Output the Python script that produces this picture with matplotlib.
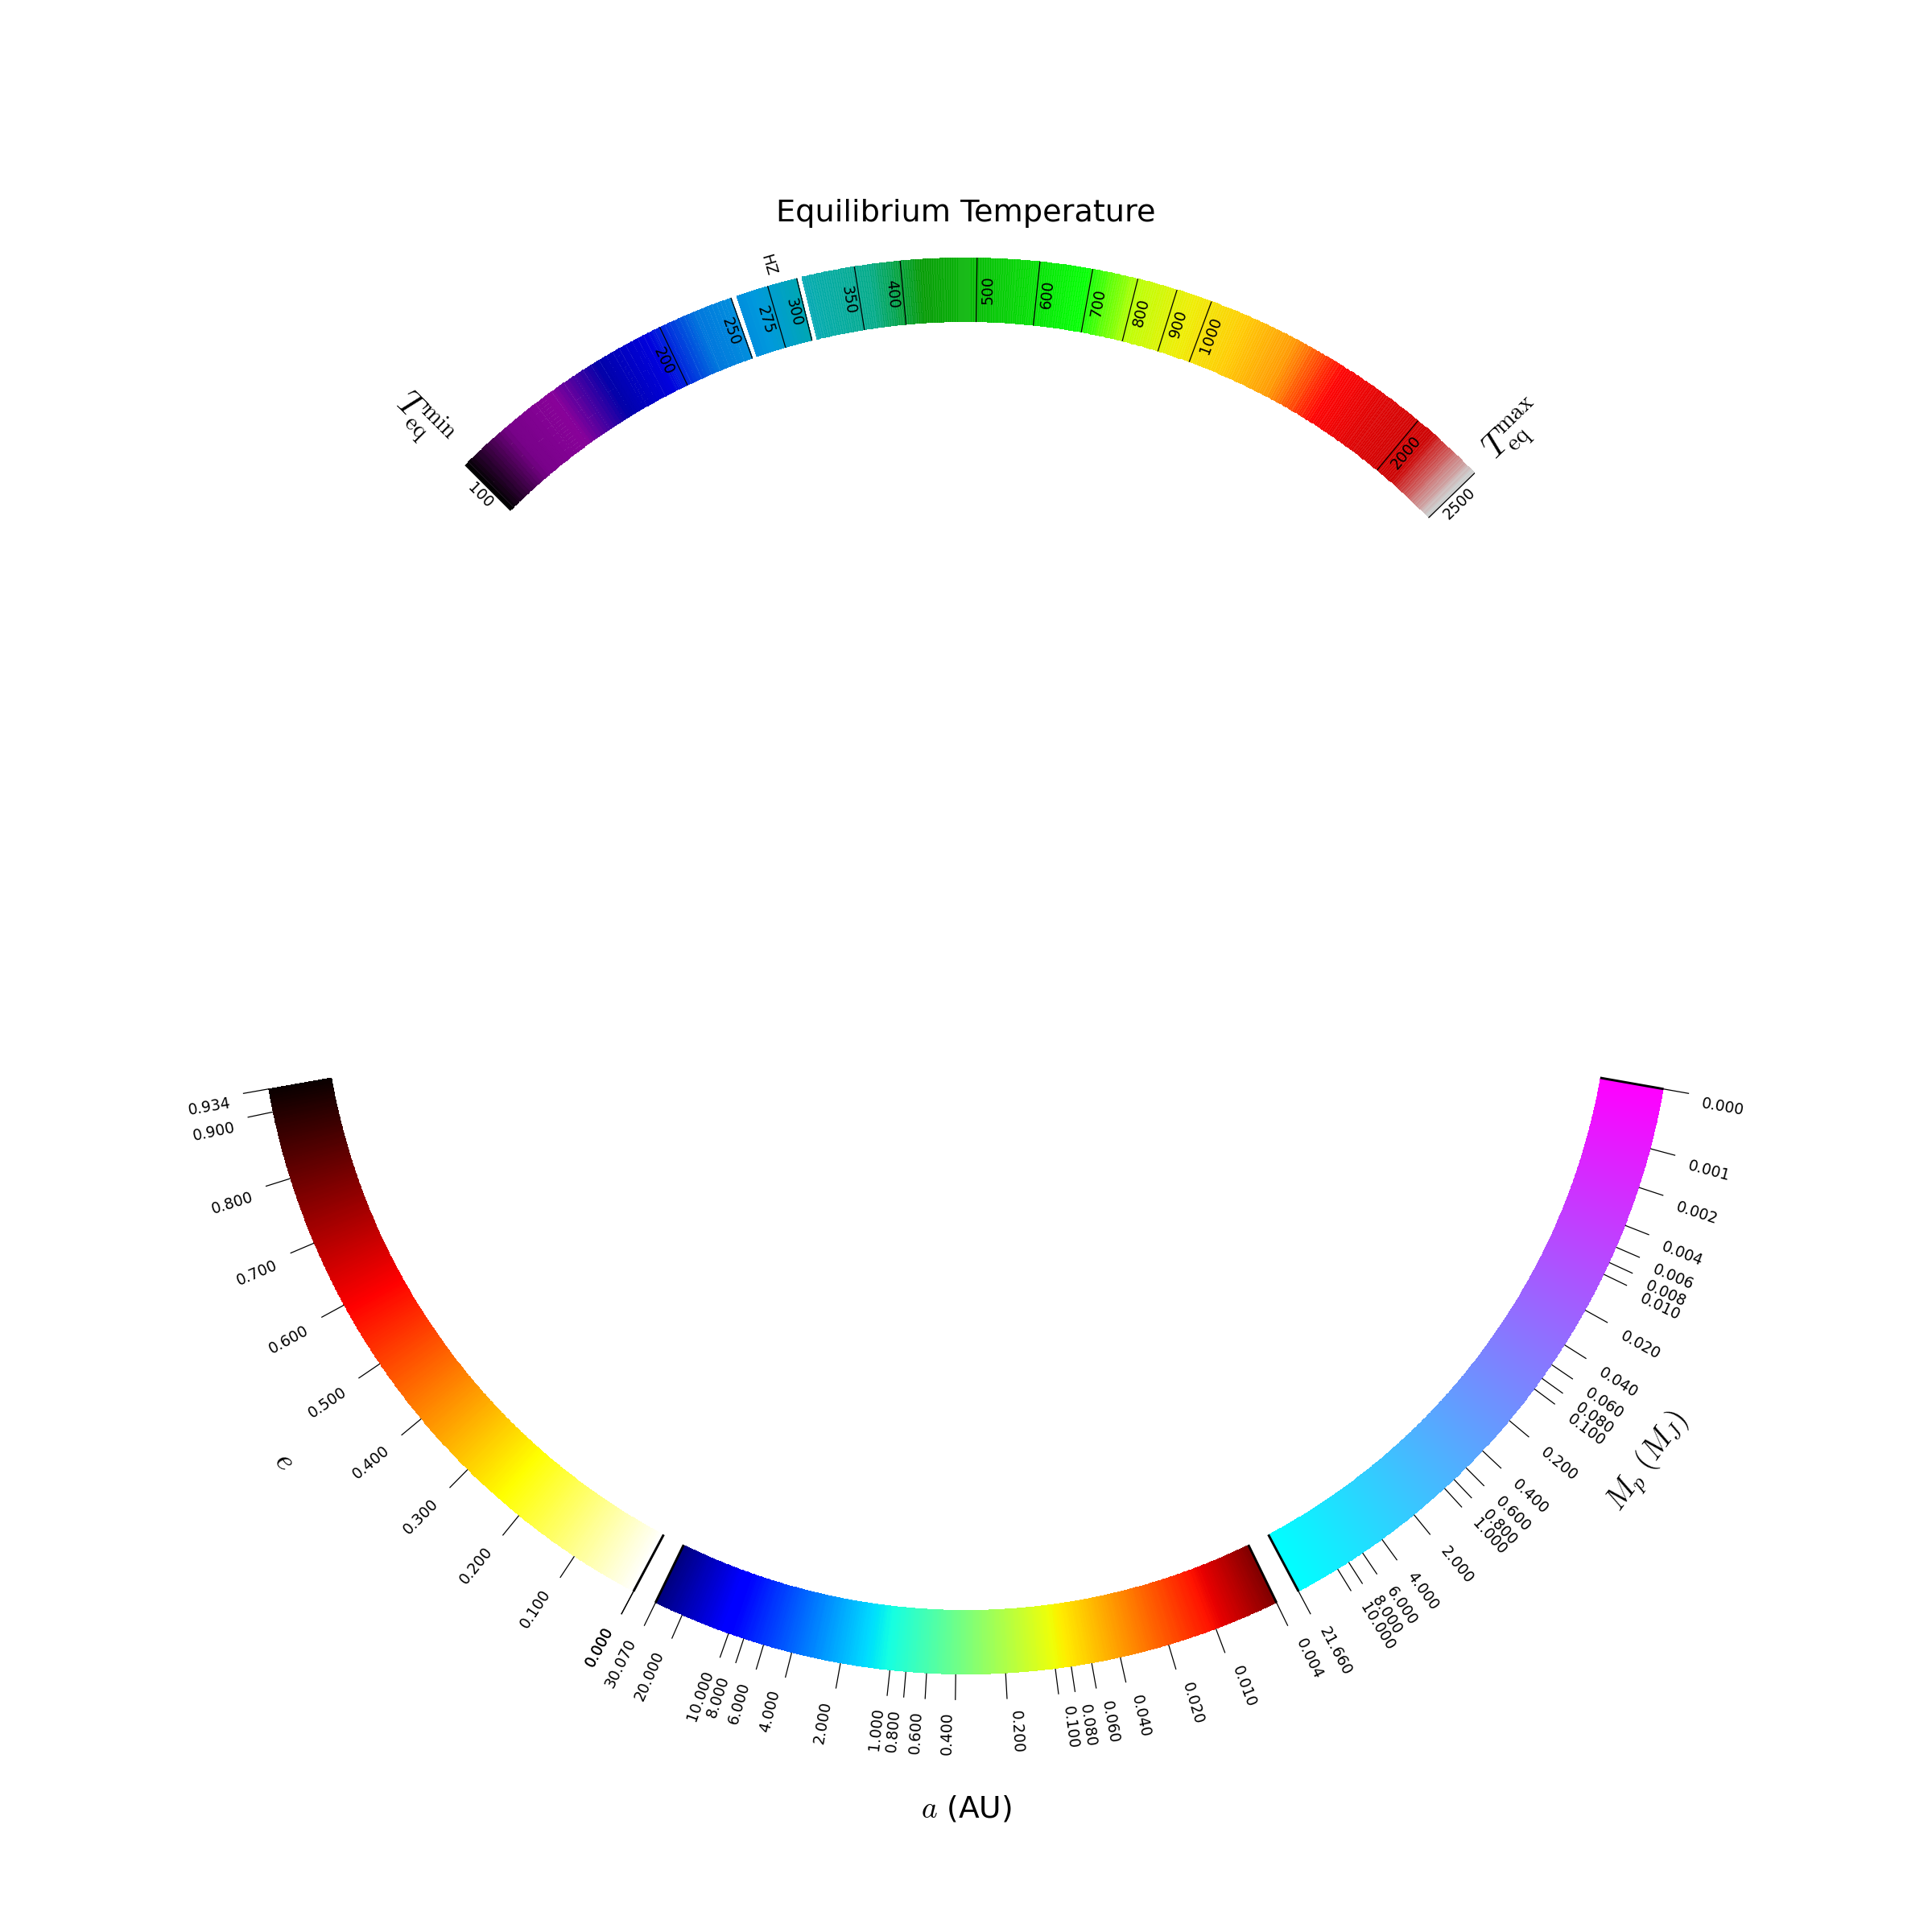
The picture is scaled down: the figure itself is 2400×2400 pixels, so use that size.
import numpy as np
import matplotlib
matplotlib.use("Agg")
import matplotlib.pyplot as plt
from matplotlib.colors import LogNorm, Normalize

plt.rcParams['mathtext.fontset'] = 'cm'
plt.rcParams['font.family'] = ['DejaVu Sans']

# ---------------- data ----------------
T_min, T_max = 100.0, 2500.0
T_ticks = [100, 200, 250, 275, 300, 350, 400, 500, 600, 700, 800, 900, 1000, 2000, 2500]
HZ_bounds = [250, 300]

e_min, e_max = 0.0, 0.934
e_ticks = [0.0, 0.1, 0.2, 0.3, 0.4, 0.5, 0.6, 0.7, 0.8, 0.9, 0.0, 0.934]

a_min, a_max = 0.004, 30.07
a_ticks = [0.004, 0.01, 0.02, 0.04, 0.06, 0.08, 0.1, 0.2, 0.4, 0.6, 0.8,
           1.0, 2.0, 4.0, 6.0, 8.0, 10.0, 20.0, 30.07]

Mp_min, Mp_max = 0.00035, 21.66
Mp_ticks = [0.00035, 0.001, 0.002, 0.004, 0.006, 0.008, 0.01, 0.02, 0.04, 0.06,
            0.08, 0.1, 0.2, 0.4, 0.6, 0.8, 1.0, 2.0, 4.0, 6.0, 8.0, 10.0, 21.66]

# ---------------- layout ----------------
R_IN, R_OUT = 0.80, 0.88
R_MID = 0.5 * (R_IN + R_OUT)
TICK_LEN = 0.032
R_LAB = 0.926
R_AXLAB = 1.047
TICK_FS = 4.5
GAP = 0.45  # degrees of white gap at each HZ boundary

fig = plt.figure(figsize=(8, 8), dpi=300)
ax = fig.add_axes([0, 0, 1, 1])
ax.set_xlim(-1.2, 1.2)
ax.set_ylim(-1.2, 1.2)
ax.set_aspect('equal')
ax.axis('off')


def pol(r, th_deg):
    t = np.deg2rad(th_deg)
    return r * np.cos(t), r * np.sin(t)


def draw_mesh(norm, cmap, th_a, th_b, f_a, f_b, alpha=1.0, n=600):
    fr = np.linspace(f_a, f_b, n + 1)
    th = np.deg2rad(th_a + (fr - f_a) / (f_b - f_a) * (th_b - th_a))
    r = np.array([R_IN, R_OUT])
    X = r[:, None] * np.cos(th)[None, :]
    Y = r[:, None] * np.sin(th)[None, :]
    vals = norm.inverse(0.5 * (fr[:-1] + fr[1:]))
    C = np.asarray(vals)[None, :]
    ax.pcolormesh(X, Y, C, cmap=cmap, norm=norm, shading='flat',
                  alpha=alpha, edgecolors='none', antialiased=False)


class ArcScale:
    def __init__(self, norm, th_min, th_max):
        self.norm = norm
        self.th_min = th_min
        self.th_max = th_max

    def theta(self, v):
        f = float(self.norm(v))
        return self.th_min + f * (self.th_max - self.th_min)

    def draw(self, cmap, alpha=1.0):
        draw_mesh(self.norm, cmap, self.th_min, self.th_max, 0.0, 1.0, alpha)


# ---------------- temperature arc (split at HZ bounds) ----------------
T_norm = LogNorm(T_min, T_max)
T_TH0, T_SPAN = 135.0, 90.0


def theta_T(T):
    n = sum(1 for b in HZ_bounds if T > b)
    return T_TH0 - T_SPAN * float(T_norm(T)) - GAP * n


edges = [T_min] + list(HZ_bounds) + [T_max]
seg_angles = []
for k in range(len(edges) - 1):
    lo, hi = edges[k], edges[k + 1]
    fa, fb = float(T_norm(lo)), float(T_norm(hi))
    tha = T_TH0 - T_SPAN * fa - GAP * k
    thb = T_TH0 - T_SPAN * fb - GAP * k
    seg_angles.append((tha, thb))
    draw_mesh(T_norm, 'nipy_spectral', tha, thb, fa, fb, alpha=0.9, n=300)

pad = 0.3
for T in T_ticks:
    th = theta_T(T)
    x0, y0 = pol(R_IN, th)
    x1, y1 = pol(R_OUT, th)
    ax.plot([x0, x1], [y0, y1], color='black', lw=0.3, solid_capstyle='butt')
    if th > 90.0 + 1e-6:
        rot = th - 180.0
        thl = th + pad
    else:
        rot = th
        thl = th - pad
    xl, yl = pol(R_MID, thl)
    ax.text(xl, yl, f"{T}", rotation=rot, rotation_mode='anchor',
            ha='center', va='top', fontsize=TICK_FS)

th_hz = 0.5 * (seg_angles[1][0] + seg_angles[1][1])
xh, yh = pol(0.905, th_hz)
ax.text(xh, yh, "HZ", rotation=th_hz - 180, rotation_mode='anchor',
        ha='center', va='bottom', fontsize=TICK_FS)

th_lo = seg_angles[0][0]
th_hi = seg_angles[-1][1]
x, y = pol(0.956, th_lo)
ax.text(x, y, r'$T_{\rm eq}^{\rm min}$', rotation=th_lo - 180,
        rotation_mode='anchor', ha='center', va='center', fontsize=10)
x, y = pol(0.952, th_hi)
ax.text(x, y, r'$T_{\rm eq}^{\rm max}$', rotation=th_hi,
        rotation_mode='anchor', ha='center', va='center', fontsize=10)

ax.text(0, 0.935, "Equilibrium Temperature", ha='center', va='center', fontsize=9.2)

# ---------------- bottom arcs ----------------
e_scale = ArcScale(Normalize(e_min, e_max), 242.0, 190.0)
a_scale = ArcScale(LogNorm(a_min, a_max), 296.0, 244.0)
Mp_scale = ArcScale(LogNorm(Mp_min, Mp_max), 350.0, 298.0)

e_scale.draw('hot_r')
a_scale.draw('jet_r')
Mp_scale.draw('cool_r')


def bottom_ticks(scale, ticks):
    for v in ticks:
        th = scale.theta(v)
        x0, y0 = pol(R_OUT, th)
        x1, y1 = pol(R_OUT + TICK_LEN, th)
        ax.plot([x0, x1], [y0, y1], color='black', lw=0.3, solid_capstyle='butt')
        if th < 270.0:
            rot = th - 180.0
            ha = 'right'
        else:
            rot = th - 360.0
            ha = 'left'
        xl, yl = pol(R_LAB, th)
        ax.text(xl, yl, "%.3f" % v, rotation=rot, ha=ha, va='top',
                fontsize=TICK_FS)


bottom_ticks(e_scale, e_ticks)
bottom_ticks(a_scale, a_ticks)
bottom_ticks(Mp_scale, Mp_ticks)

# black end lines
for th in [e_scale.theta(e_min), a_scale.theta(a_max), a_scale.theta(a_min),
           Mp_scale.theta(Mp_max), Mp_scale.theta(Mp_min)]:
    x0, y0 = pol(R_IN, th)
    x1, y1 = pol(R_OUT, th)
    ax.plot([x0, x1], [y0, y1], color='black', lw=0.7, solid_capstyle='butt')

# axis labels
for scale, lab in [(e_scale, r'$e$'), (a_scale, r'$a$ (AU)'), (Mp_scale, r'$M_p\ (M_J)$')]:
    thm = 0.5 * (scale.th_min + scale.th_max)
    rot = (thm + 90.0) % 360.0
    if rot > 180:
        rot -= 360
    x, y = pol(R_AXLAB, thm)
    ax.text(x, y, lab, rotation=rot, rotation_mode='anchor', ha='center',
            va='center', fontsize=9)

fig.savefig("out.png", dpi=300)
